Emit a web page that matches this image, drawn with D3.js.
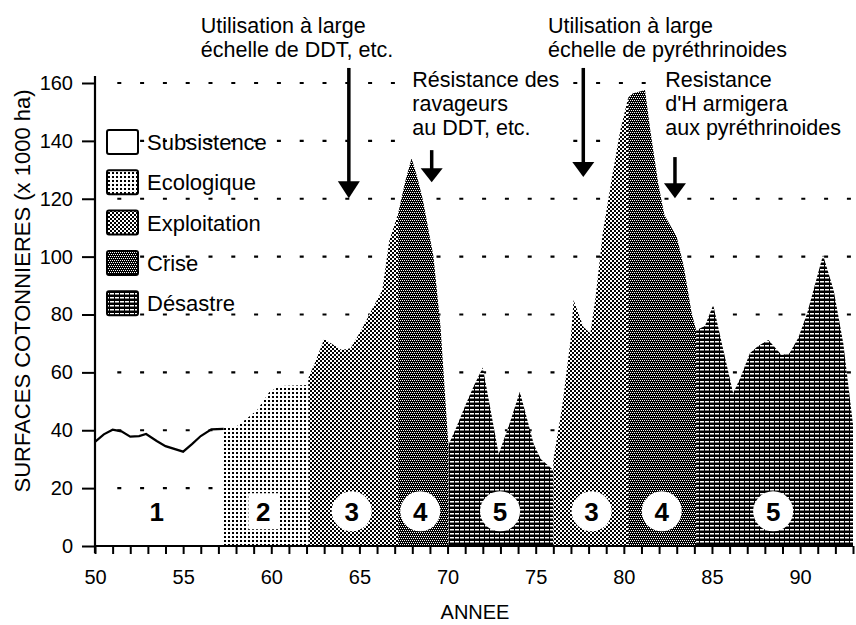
<!DOCTYPE html>
<html><head><meta charset="utf-8">
<script src="https://cdn.jsdelivr.net/npm/d3@7"></script>
<style>
body{margin:0;background:#fff;}
svg{display:block;font-family:"Liberation Sans",Arial,Helvetica,sans-serif;}
</style></head><body>
<svg id="c" width="856" height="625"></svg>
<script>
// ---- data (year, surface x1000 ha) ----
const subsistence = [[50,36],[50.5,38.6],[51,40.2],[51.5,39.6],[52,37.8],[52.5,38],[52.9,38.7],[53.5,36.3],[54,34.5],[55,32.6],[55.5,35.2],[56,38],[56.6,40.3],[57.3,40.5]];
const ecologique = [[57.25,41],[58,41.2],[58.6,44],[59.2,47],[59.9,53.3],[60.5,55.3],[62.1,55.6]];
const exploitation1 = [[62.1,58],[62.5,63.7],[63.0,71.5],[63.4,70],[64.0,67.7],[64.5,68.3],[65.1,74.6],[65.6,80.4],[66.3,88.5],[66.7,105.7],[67.2,115]];
const crise1 = [[67.2,115],[67.6,126],[67.96,134],[68.3,127],[68.6,119.6],[69.2,100],[69.6,75.8],[70.0,39],[70.05,35]];
const desastre1 = [[70.05,34.9],[70.5,41],[71.0,48.5],[71.5,55.5],[72.0,61.7],[72.9,31.8],[73.5,42],[74.1,53.3],[74.9,35],[75.3,30],[76.0,26.3]];
const exploitation2 = [[76.0,29.7],[76.5,48.1],[77.0,72.3],[77.15,85],[77.7,75.8],[78.1,73.5],[78.4,86.1],[78.8,108],[79.3,126.5],[79.8,143.7],[80.25,155]];
const crise2 = [[80.25,155],[80.5,156.4],[81.2,157.6],[81.5,143.7],[81.95,125.3],[82.3,114.4],[83.0,106.9],[83.4,96.5],[83.85,80.4],[84.1,74.6]];
const desastre2 = [[84.1,74.6],[84.6,76],[85.07,83.3],[85.6,68.9],[86.2,52.8],[86.6,58],[87.15,66.6],[87.6,69],[88.2,71.2],[88.95,66],[89.4,66.6],[89.9,72],[90.4,80.4],[91.3,100.6],[91.9,88.5],[92.45,70],[93,42]];

const legendLabels = ["Subsistence","Ecologique","Exploitation","Crise","Désastre"];
const legendKeys = ["sub","eco","expl","crise","des"];
const yTicks = [0,20,40,60,80,100,120,140,160];
const xTickLabels = [50,55,60,65,70,75,80,85,90];
const badgeLabels = ["1","2","3","4","5","3","4","5"];
const badgeYears = [53.5,59.55,64.56,68.45,72.98,78.17,82.15,88.47];
const annotations = [
  {lines:["Utilisation à large","échelle de DDT, etc."], year:56.0, top:33},
  {lines:["Résistance des","ravageurs","au DDT, etc."], year:68.0, top:87},
  {lines:["Utilisation à large","échelle de pyréthrinoides"], year:75.7, top:33},
  {lines:["Resistance","d'H armigera","aux pyréthrinoides"], year:82.35, top:87}
];
const arrows = [
  {year:64.4, from:165.2, to:120.2, head:17},
  {year:69.1, from:136.8, to:125.7, head:14},
  {year:77.7, from:165.2, to:127.5, head:15},
  {year:82.9, from:134.4, to:120.2, head:15}
];

// ---- scales ----
const x = d3.scaleLinear().domain([50,93]).range([95,853]);
const y = d3.scaleLinear().domain([0,160]).range([546,83]);
const svg = d3.select("#c");

// ---- patterns ----
const defs = svg.append("defs");
function pat(id,w,h,bg,rects,fg){
  const p = defs.append("pattern").attr("id",id).attr("patternUnits","userSpaceOnUse")
    .attr("width",w).attr("height",h);
  p.append("rect").attr("width",w).attr("height",h).attr("fill",bg);
  rects.forEach(r=>p.append("rect").attr("x",r[0]).attr("y",r[1]).attr("width",r[2]).attr("height",r[3]).attr("fill",fg));
}
pat("eco",4,4,"#fff",[[0,0,2,2]],"#000");
pat("expl",4,4,"#fff",[[0,0,2,2],[2,2,2,2]],"#000");
pat("crise",4,4,"#000",[[0,0,1,1],[2,0,1,1],[1,2,1,1],[3,2,1,1]],"#fff");
pat("des",5,4,"#000",[[0,1,4,1.5]],"#fff");
const fillOf = k => k==="sub" ? "#fff" : `url(#${k})`;

// ---- grid (dotted) ----
svg.append("g").selectAll("line").data(yTicks.filter(v=>v>0)).join("line")
  .attr("x1",117.3).attr("x2",853).attr("y1",d=>y(d)).attr("y2",d=>y(d))
  .attr("stroke","#000").attr("stroke-width",2.2).attr("stroke-dasharray","4,18.8");

// ---- white boxes behind right annotations (hide grid) ----
svg.append("rect").attr("x",405).attr("y",66).attr("width",158).attr("height",78).attr("fill","#fff");
svg.append("rect").attr("x",657).attr("y",66).attr("width",199).attr("height",78).attr("fill","#fff");

// ---- areas ----
const area = d3.area().x(d=>x(d[0])).y0(y(0)).y1(d=>y(d[1]));
const segments = [
  {data:ecologique,k:"eco"},{data:exploitation1,k:"expl"},{data:crise1,k:"crise"},{data:desastre1,k:"des"},
  {data:exploitation2,k:"expl"},{data:crise2,k:"crise"},{data:desastre2,k:"des"}
];
svg.append("g").selectAll("path").data(segments).join("path")
  .attr("d",d=>area(d.data)).attr("fill",d=>fillOf(d.k));

// subsistence line
svg.append("path").attr("d",d3.line().x(d=>x(d[0])).y(d=>y(d[1]))(subsistence))
  .attr("fill","none").attr("stroke","#000").attr("stroke-width",2.2);

// ---- badges ----
const bg = svg.append("g");
badgeLabels.forEach((t,i)=>{
  const cx = x(badgeYears[i]), cy = y(12);
  if(i===1){ bg.append("rect").attr("x",cx-15).attr("y",cy-18).attr("width",31).attr("height",36).attr("fill","#fff"); }
  else if(i>1){ bg.append("circle").attr("cx",cx).attr("cy",cy).attr("r",20).attr("fill","#fff"); }
  bg.append("text").attr("x",cx).attr("y",cy+9.5).attr("text-anchor","middle")
    .attr("font-size",26).attr("font-weight","bold").text(t);
});

// ---- axes ----
svg.append("line").attr("x1",95).attr("x2",95).attr("y1",76).attr("y2",553).attr("stroke","#000").attr("stroke-width",2.2);
svg.append("line").attr("x1",94).attr("x2",853).attr("y1",546).attr("y2",546).attr("stroke","#000").attr("stroke-width",2.2);
const yAxis = d3.axisLeft(y).tickValues(yTicks).tickSize(14).tickPadding(9);
const ga = svg.append("g").attr("transform","translate(96,0)").call(yAxis);
ga.select(".domain").remove();
ga.selectAll(".tick line").attr("stroke","#000").attr("stroke-width",2);
ga.selectAll(".tick text").attr("font-size",20).attr("font-family","Liberation Sans, Arial, sans-serif").attr("fill","#000");
const xAxis = d3.axisBottom(x).tickValues(d3.range(50,94)).tickSize(8).tickFormat(d=>xTickLabels.includes(d)?d:"").tickPadding(16);
const gx = svg.append("g").attr("transform","translate(0,546)").call(xAxis);
gx.select(".domain").remove();
gx.selectAll(".tick line").attr("stroke","#000").attr("stroke-width",2);
gx.selectAll(".tick text").attr("font-size",20).attr("font-family","Liberation Sans, Arial, sans-serif").attr("fill","#000");

svg.append("text").attr("x",475).attr("y",619).attr("text-anchor","middle").attr("font-size",20).text("ANNEE");
svg.append("text").attr("transform","translate(30,291) rotate(-90)").attr("text-anchor","middle")
  .attr("font-size",22).text("SURFACES COTONNIERES (x 1000 ha)");

// ---- legend ----
const lg = svg.append("g");
legendLabels.forEach((l,i)=>{
  const cy = 142 + i*40.3;
  lg.append("rect").attr("x",107).attr("y",cy-12).attr("width",31).attr("height",24)
    .attr("fill",fillOf(legendKeys[i])).attr("stroke","#000").attr("stroke-width",2).attr("rx",2);
  lg.append("text").attr("x",147).attr("y",cy+8).attr("font-size",22).text(l);
});

// ---- annotations ----
annotations.forEach(a=>{
  const t = svg.append("text").attr("font-size",21.5);
  a.lines.forEach((ln,j)=>t.append("tspan").attr("x",x(a.year)).attr("y",a.top+j*24).text(ln));
});
arrows.forEach(a=>{
  const ax = x(a.year), y0 = y(a.from), y1 = y(a.to);
  svg.append("line").attr("x1",ax).attr("x2",ax).attr("y1",y0).attr("y2",y1-a.head+2)
    .attr("stroke","#000").attr("stroke-width",3.5);
  svg.append("path").attr("d",`M${ax-11},${y1-a.head} L${ax+11},${y1-a.head} L${ax},${y1} Z`).attr("fill","#000");
});
</script>
</body></html>
